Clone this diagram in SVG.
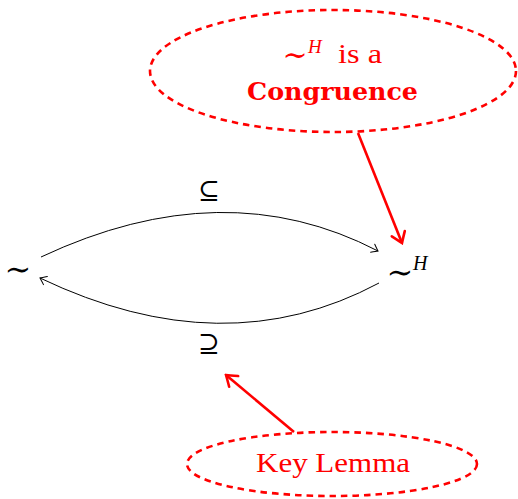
<svg xmlns="http://www.w3.org/2000/svg" width="518" height="499" viewBox="0 0 518 499">
<defs>
<style>
.t{font-family:"Liberation Serif","DejaVu Serif",serif;}
.tb{font-family:"DejaVu Serif","Liberation Serif",serif;font-weight:bold;}
.red{fill:#ff0000;}
.blk{fill:#000;}
.ell{fill:none;stroke:#ff0000;stroke-width:2.6;stroke-dasharray:6.5 5;}
.edge{fill:none;stroke:#000;stroke-width:1;}
.redline{fill:none;stroke:#ff0000;stroke-width:2.6;}
</style>
<marker id="ah" markerUnits="userSpaceOnUse" viewBox="-8 -6 10 12" refX="0" refY="0" markerWidth="10" markerHeight="12" orient="auto">
<path d="M-6,-4.5 Q-1.5,-1 0,0 Q-1.5,1 -6,4.5" fill="none" stroke="#000" stroke-width="1" stroke-linecap="round"/>
</marker>
<marker id="ahr" markerUnits="userSpaceOnUse" viewBox="-14 -10 16 20" refX="0" refY="0" markerWidth="16" markerHeight="20" orient="auto">
<path d="M-10,-7 Q-3,-2 0,0 Q-3,2 -10,7" fill="none" stroke="#ff0000" stroke-width="2.6" stroke-linecap="round"/>
</marker>
</defs>
<g id="connectors">
<path class="edge" d="M41,257 Q224,171 378,251" marker-end="url(#ah)"/>
<path class="edge" d="M379,283 Q224,366 40,278" marker-end="url(#ah)"/>
<path class="redline" d="M358,133 L402,243" marker-end="url(#ahr)"/>
<path class="redline" d="M294,432 L226,375" marker-end="url(#ahr)"/>
</g>
<g id="label-subseteq"><text class="t blk" x="209" y="199" font-size="26" text-anchor="middle">⊆</text></g>
<g id="label-supseteq"><text class="t blk" x="209" y="352" font-size="26" text-anchor="middle">⊇</text></g>
<g id="node-sim"><text class="t blk" x="18" y="280" font-size="32" text-anchor="middle">∼</text></g>
<g id="node-simH"><text class="t blk" x="400" y="283" font-size="32" text-anchor="middle">∼</text><text class="t blk" x="413" y="270" font-size="20" font-style="italic">H</text></g>
<g id="node-congruence">
<ellipse class="ell" cx="333" cy="71" rx="183" ry="61"/>
<text class="t red" x="295" y="65" font-size="30" text-anchor="middle">∼</text>
<text class="t red" x="308" y="53" font-size="19" font-style="italic">H</text>
<text class="t red" x="338" y="63" font-size="28" textLength="44" lengthAdjust="spacingAndGlyphs">is a</text>
<text class="tb red" x="247" y="100" font-size="24" textLength="171" lengthAdjust="spacingAndGlyphs">Congruence</text>
</g>
<g id="node-keylemma">
<ellipse class="ell" cx="332" cy="464" rx="145" ry="32"/>
<text class="t red" x="256" y="472" font-size="28" textLength="154" lengthAdjust="spacingAndGlyphs">Key Lemma</text>
</g>
</svg>
